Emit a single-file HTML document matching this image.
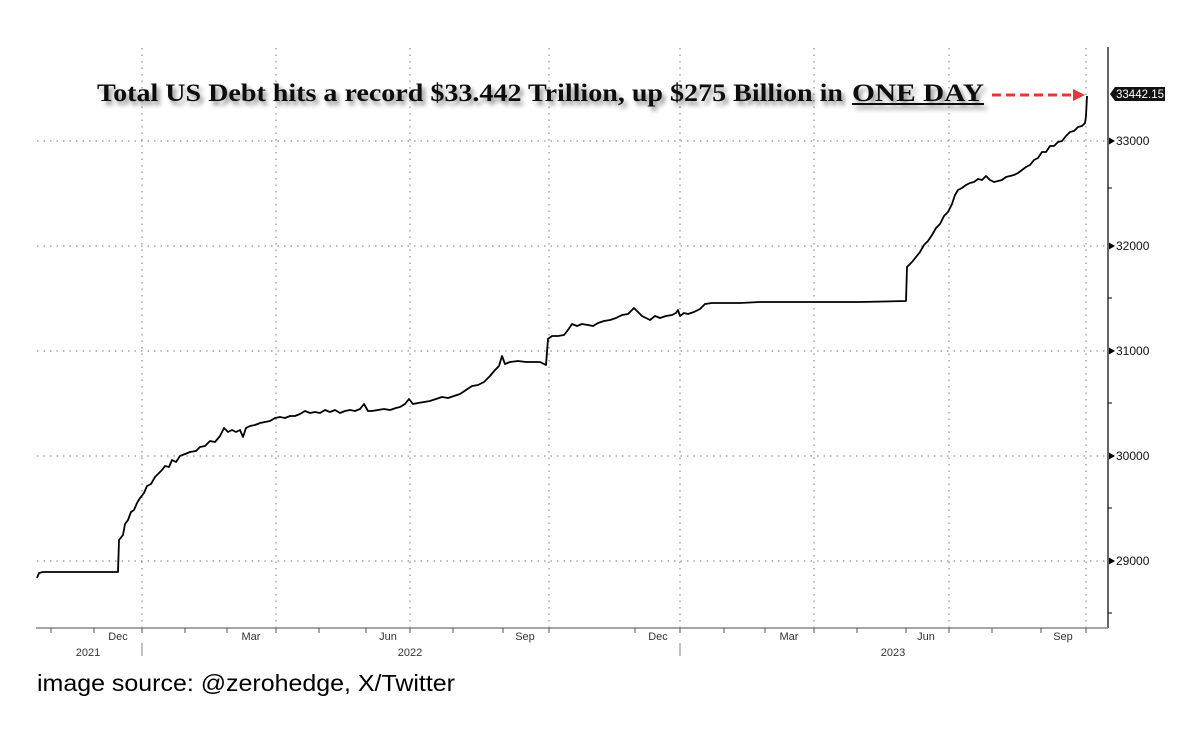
<!DOCTYPE html>
<html><head><meta charset="utf-8"><style>
html,body{margin:0;padding:0;background:#fff;}
body{width:1188px;height:730px;overflow:hidden;position:relative;font-family:"Liberation Sans",sans-serif;}
</style></head><body>
<svg width="1188" height="730" viewBox="0 0 1188 730" xmlns="http://www.w3.org/2000/svg" style="position:absolute;left:0;top:0">
<defs><filter id="sh" x="-5%" y="-50%" width="110%" height="200%"><feGaussianBlur in="SourceAlpha" stdDeviation="2.5"/><feOffset dx="3" dy="4"/><feComponentTransfer><feFuncA type="linear" slope="0.45"/></feComponentTransfer><feMerge><feMergeNode/><feMergeNode in="SourceGraphic"/></feMerge></filter></defs>
<g stroke="#777" stroke-width="1" stroke-dasharray="1.5,5" fill="none">
<line x1="37" y1="141" x2="1108" y2="141"/><line x1="37" y1="246" x2="1108" y2="246"/>
<line x1="37" y1="351" x2="1108" y2="351"/><line x1="37" y1="456" x2="1108" y2="456"/>
<line x1="37" y1="561" x2="1108" y2="561"/>
<line x1="142" y1="48" x2="142" y2="628"/><line x1="276" y1="48" x2="276" y2="628"/>
<line x1="410" y1="48" x2="410" y2="628"/><line x1="549" y1="48" x2="549" y2="628"/>
<line x1="680" y1="48" x2="680" y2="628"/><line x1="814" y1="48" x2="814" y2="628"/>
<line x1="949" y1="48" x2="949" y2="628"/><line x1="1086" y1="48" x2="1086" y2="628"/>
</g>
<line x1="1108" y1="47" x2="1108" y2="628" stroke="#000" stroke-width="1.2"/>
<line x1="36" y1="628" x2="1108" y2="628" stroke="#888" stroke-width="1.5"/>
<g stroke="#555" stroke-width="1">
<line x1="51" y1="628" x2="51" y2="633"/><line x1="94" y1="628" x2="94" y2="633"/><line x1="142" y1="628" x2="142" y2="633"/>
<line x1="185" y1="628" x2="185" y2="633"/><line x1="227" y1="628" x2="227" y2="633"/><line x1="276" y1="628" x2="276" y2="633"/>
<line x1="319" y1="628" x2="319" y2="633"/><line x1="366" y1="628" x2="366" y2="633"/><line x1="410" y1="628" x2="410" y2="633"/>
<line x1="453" y1="628" x2="453" y2="633"/><line x1="503" y1="628" x2="503" y2="633"/><line x1="549" y1="628" x2="549" y2="633"/>
<line x1="635" y1="628" x2="635" y2="633"/><line x1="680" y1="628" x2="680" y2="633"/><line x1="724" y1="628" x2="724" y2="633"/>
<line x1="765" y1="628" x2="765" y2="633"/><line x1="814" y1="628" x2="814" y2="633"/><line x1="857" y1="628" x2="857" y2="633"/>
<line x1="906" y1="628" x2="906" y2="633"/><line x1="949" y1="628" x2="949" y2="633"/><line x1="992" y1="628" x2="992" y2="633"/>
<line x1="1041" y1="628" x2="1041" y2="633"/><line x1="1086" y1="628" x2="1086" y2="633"/>
</g>
<g stroke="#999" stroke-width="1.2"><line x1="142" y1="643" x2="142" y2="656"/><line x1="680" y1="643" x2="680" y2="656"/></g>
<g stroke="#000" stroke-width="1"><line x1="1108" y1="188" x2="1112" y2="188"/><line x1="1108" y1="298" x2="1112" y2="298"/><line x1="1108" y1="403" x2="1112" y2="403"/><line x1="1108" y1="508" x2="1112" y2="508"/><line x1="1108" y1="613" x2="1112" y2="613"/></g>
<g font-size="11" fill="#333" text-anchor="middle">
<text x="118" y="640">Dec</text><text x="251" y="640">Mar</text><text x="388" y="640">Jun</text><text x="525" y="640">Sep</text>
<text x="658" y="640">Dec</text><text x="789" y="640">Mar</text><text x="926" y="640">Jun</text><text x="1063" y="640">Sep</text>
<text x="88" y="656">2021</text><text x="410" y="656">2022</text><text x="893" y="656">2023</text>
</g>
<g font-size="12" fill="#111">
<path d="M1115 141 l-6 -3.5 v7z" fill="#000"/><text x="1116" y="145">33000</text>
<path d="M1115 246 l-6 -3.5 v7z" fill="#000"/><text x="1116" y="250">32000</text>
<path d="M1115 351 l-6 -3.5 v7z" fill="#000"/><text x="1116" y="355">31000</text>
<path d="M1115 456 l-6 -3.5 v7z" fill="#000"/><text x="1116" y="460">30000</text>
<path d="M1115 561 l-6 -3.5 v7z" fill="#000"/><text x="1116" y="565">29000</text>
</g>
<path d="M1110 94 l5 -7 h50 v14 h-50z" fill="#111"/>
<text x="1116" y="98" font-size="12" fill="#fff" textLength="48" lengthAdjust="spacingAndGlyphs">33442.15</text>
<polyline fill="none" stroke="#000" stroke-width="1.8" stroke-linejoin="round" points="
37,578 39,573 43,572 118,572 119,540 123,535 125,524 128,520 131,512 134,510 137,503 140,498 144,493 147,486 151,484 155,477 158,474 162,470 165,466 169,467 172,460 176,462 180,456 185,454 190,452 196,451 200,447 205,446 210,441 215,442 220,436 224,428 228,432 232,430 236,432 240,430 243,437 246,428 250,426 255,425 260,423 265,422 270,421 275,418 280,417 285,418 290,416 295,416 300,414 305,411 310,413 315,412 320,413 325,410 330,412 335,410 340,413 345,411 350,410 355,411 360,409 364,404 368,411 372,411 378,410 384,409 390,410 396,408 400,407 405,404 409,399 413,404 418,403 424,402 430,401 436,399 442,397 448,398 454,396 460,394 466,390 472,386 478,385 484,382 490,376 495,370 499,366 502,356 505,364 510,362 518,361 526,362 534,362 540,362 546,365 548,339 552,336 558,336 564,335 568,330 572,324 577,326 582,324 588,325 593,326 598,323 604,321 610,320 616,318 622,315 628,314 634,308 638,312 642,316 646,318 650,320 655,316 660,318 666,316 672,315 676,313 678,310 680,316 684,313 688,314 694,312 700,309 705,304 712,303 720,303 740,303 760,302 800,302 860,302 906,301 907,267 912,262 916,257 920,252 924,245 928,241 932,235 936,228 940,224 944,216 948,212 952,204 955,195 958,190 962,188 966,185 970,183 974,182 978,179 982,180 986,176 990,180 994,182 998,181 1002,180 1006,177 1010,176 1014,175 1018,173 1022,170 1026,167 1030,165 1034,160 1038,158 1042,152 1046,152 1050,146 1054,146 1058,142 1062,141 1066,136 1070,132 1074,131 1078,127 1082,126 1085,123 1086,116 1087,96"/>
<g filter="url(#sh)">
<text x="97" y="101" font-family="'Liberation Serif',serif" font-weight="bold" font-size="25" fill="#111" textLength="746" lengthAdjust="spacingAndGlyphs">Total US Debt hits a record $33.442 Trillion, up $275 Billion in</text>
<text x="852" y="101" font-family="'Liberation Serif',serif" font-weight="bold" font-size="25" fill="#111" textLength="132" lengthAdjust="spacingAndGlyphs">ONE DAY</text>
<line x1="852" y1="104" x2="984" y2="104" stroke="#111" stroke-width="2"/>
</g>
<line x1="992" y1="95" x2="1075" y2="95" stroke="#e8343b" stroke-width="3" stroke-dasharray="9,5"/>
<path d="M1073 89 L1085 95 L1073 101z" fill="#e8343b"/>
<text x="37" y="691" font-size="23" fill="#000" textLength="418" lengthAdjust="spacingAndGlyphs">image source: @zerohedge, X/Twitter</text>
</svg>
</body></html>
